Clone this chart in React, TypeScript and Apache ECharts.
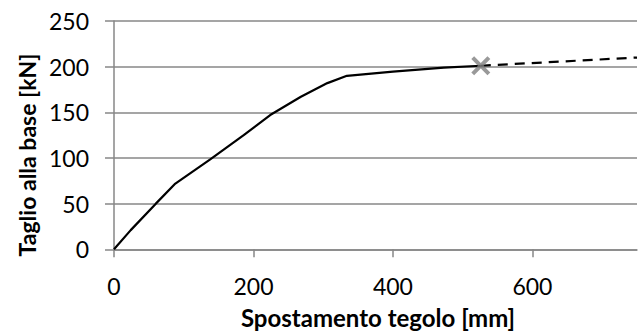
import React, { useEffect, useRef } from "react";
import * as echarts from "echarts";

const xSolid = [0, 24, 60, 88, 138, 186, 224, 268, 306, 334, 400, 473, 526];
const ySolid = [0, 21, 50, 72, 98.5, 125, 147, 167, 182, 190, 194.5, 199, 201];
const xDashed = [526, 750];
const yDashed = [201, 210];
const failurePoint = [526, 201];
const xTicks = [0, 200, 400, 600];
const yTicks = [0, 50, 100, 150, 200, 250];
const xTitle = "Spostamento tegolo [mm]";
const yTitle = "Taglio alla base [kN]";

const FONT = "Lato";
const GRID = "#878787";

export default function App() {
  const ref = useRef<HTMLDivElement>(null);
  useEffect(() => {
    if (!ref.current) return;
    const chart = echarts.init(ref.current, null, { renderer: "svg" });
    const solid = xSolid.map((x, i) => [x, ySolid[i]]);
    const dashed = xDashed.map((x, i) => [x, yDashed[i]]);
    chart.setOption({
      animation: false,
      textStyle: { fontFamily: FONT },
      grid: { left: 114, top: 21, width: 523, height: 228.3, containLabel: false },
      xAxis: {
        type: "value",
        min: 0,
        max: 750,
        interval: 200,
        axisLine: { show: true, lineStyle: { color: GRID, width: 1.5 } },
        axisTick: { show: true, length: 8, customValues: xTicks, lineStyle: { color: GRID, width: 1.5 } },
        axisLabel: { customValues: xTicks, margin: 25, fontSize: 23, color: "#000", fontFamily: FONT },
        splitLine: { show: false },
      },
      yAxis: {
        type: "value",
        min: 0,
        max: 250,
        interval: 50,
        axisLine: { show: true, lineStyle: { color: GRID, width: 1.5 } },
        axisTick: { show: true, length: 9, customValues: yTicks, lineStyle: { color: GRID, width: 1.5 } },
        axisLabel: { customValues: yTicks, margin: 25, fontSize: 23, color: "#000", fontFamily: FONT },
        splitLine: { show: true, lineStyle: { color: GRID, width: 1.5 } },
      },
      series: [
        {
          type: "line",
          data: solid,
          showSymbol: false,
          symbol: "none",
          lineStyle: { color: "#000", width: 2.2 },
          z: 3,
        },
        {
          type: "line",
          data: dashed,
          showSymbol: false,
          symbol: "none",
          lineStyle: { color: "#000", width: 2.2, type: [10, 7] },
          z: 3,
        },
        {
          type: "scatter",
          data: [failurePoint],
          symbol: "path://M0,3 L3,0 L10,7 L17,0 L20,3 L13,10 L20,17 L17,20 L10,13 L3,20 L0,17 L7,10 Z",
          symbolSize: 19,
          itemStyle: { color: "#808080" },
          z: 5,
        },
      ],
      graphic: [
        {
          type: "text",
          x: 378,
          y: 317,
          style: {
            text: xTitle,
            font: `bold 24px ${FONT}`,
            fill: "#000",
            align: "center",
            verticalAlign: "middle",
          },
        },
        {
          type: "text",
          x: 27,
          y: 155,
          rotation: Math.PI / 2,
          style: {
            text: yTitle,
            font: `bold 23px ${FONT}`,
            fill: "#000",
            align: "center",
            verticalAlign: "middle",
          },
        },
      ],
    });
    return () => chart.dispose();
  }, []);
  return (
    <div
      ref={ref}
      style={{ position: "fixed", left: 0, top: 0, width: 644, height: 331, background: "#fff" }}
    />
  );
}
